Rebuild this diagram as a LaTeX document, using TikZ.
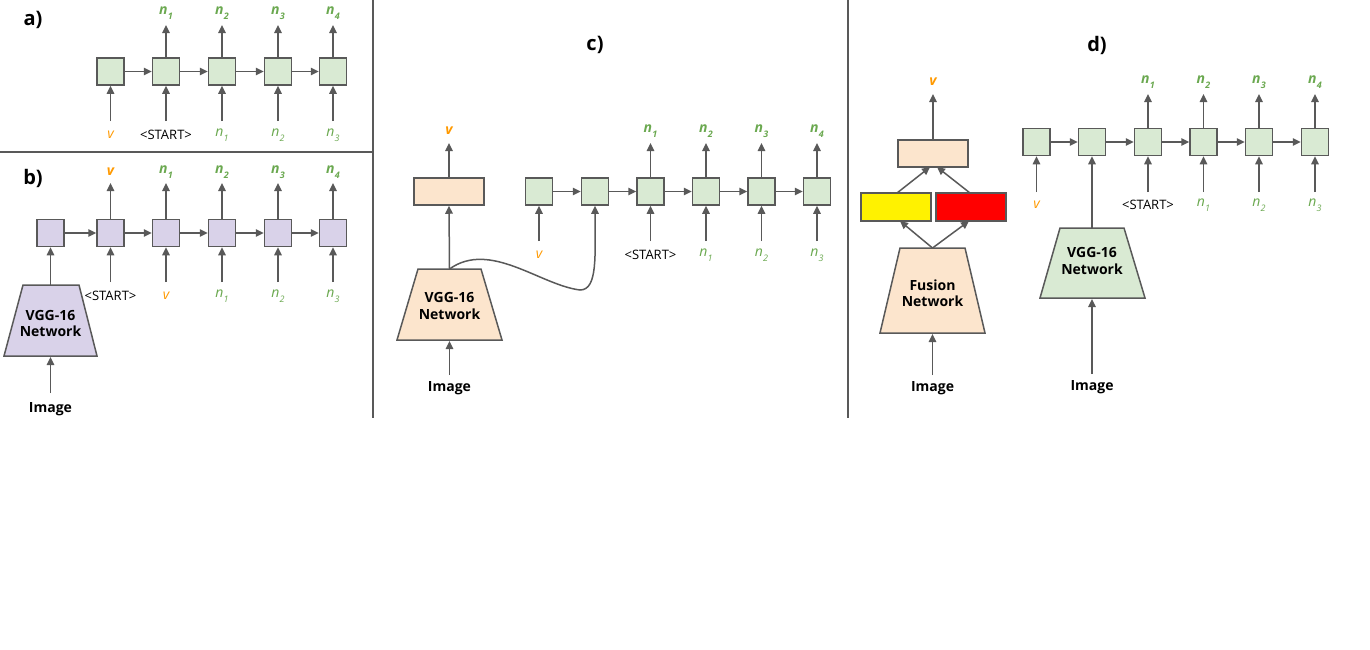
\documentclass[tikz,border=0pt]{standalone}
\usepackage{fontspec}
\setmainfont{Open Sans}
\usetikzlibrary{arrows.meta}
\definecolor{gfill}{HTML}{D9EAD3}
\definecolor{pfill}{HTML}{D9D2E9}
\definecolor{ofill}{HTML}{FCE5CD}
\definecolor{edgec}{HTML}{595959}
\definecolor{lgreen}{HTML}{6AA84F}
\definecolor{lorange}{HTML}{FF9900}
\newcommand\nn[1]{n\kern0.3pt\raisebox{-0.32em}{\fontsize{9}{9}\selectfont #1}}
\tikzset{
 cell/.style={draw=edgec, line width=1.5pt, minimum size=27pt, inner sep=0pt},
 gcell/.style={cell, fill=gfill},
 pcell/.style={cell, fill=pfill},
 wbox/.style={draw=edgec, line width=1.5pt, minimum width=70pt, minimum height=27pt, inner sep=0pt},
 arr/.style={draw=edgec, line width=1.5pt, -{Triangle[length=8pt,width=7.5pt]}},
 trap/.style={draw=edgec, line width=1.5pt},
 outlab/.style={font=\fontsize{14}{14}\selectfont\bfseries\itshape, text=lgreen, inner sep=0pt},
 inlab/.style={font=\fontsize{14}{14}\selectfont\itshape, text=lgreen, inner sep=0pt},
 voutlab/.style={font=\fontsize{14}{14}\selectfont\bfseries\itshape, text=lorange, inner sep=0pt},
 vinlab/.style={font=\fontsize{14}{14}\selectfont\itshape, text=lorange, inner sep=0pt},
 startlab/.style={font=\fontsize{13}{13}\selectfont, text=black, inner sep=0pt},
 imglab/.style={font=\fontsize{14}{14}\selectfont\bfseries, text=black, inner sep=0pt},
 netlab/.style={font=\fontsize{14}{16.5}\selectfont\bfseries, text=black, align=center, inner sep=0pt},
 panlab/.style={font=\fontsize{20}{20}\selectfont\bfseries, text=black, inner sep=0pt},
 sep/.style={draw=edgec, line width=1.5pt}
}
\begin{document}
\begin{tikzpicture}[x=1pt,y=-1pt]
\useasboundingbox (0,0) rectangle (1370,649);
% separators
\coordinate (s1a) at (373,0); \coordinate (s1b) at (373,418);
\coordinate (s2a) at (0,152); \coordinate (s2b) at (373,152);
\coordinate (s3a) at (848,0); \coordinate (s3b) at (848,418);
\draw[sep] (s1a) -- (s1b);
\draw[sep] (s2a) -- (s2b);
\draw[sep] (s3a) -- (s3b);
% ---------------- panel a
\node[panlab] (la) at (33,20) {a)};
\coordinate (atop) at (0,25); \coordinate (abot) at (0,121);
\coordinate (aolab) at (0,13); \coordinate (ailab) at (0,135);
\foreach \i/\x in {0/110.5,1/166,2/222,3/278,4/333}
  \node[gcell] (a\i) at (\x,71.5) {};
\foreach \i/\j in {0/1,1/2,2/3,3/4} \draw[arr] (a\i) -- (a\j);
\foreach \i in {1,2,3,4} {
  \coordinate (ao\i) at (a\i.north |- atop);
  \draw[arr] (a\i.north) -- (ao\i);
  \node[outlab] (aol\i) at (a\i |- aolab) {\nn{\i}};
}
\foreach \i in {0,...,4} {
  \coordinate (ai\i) at (a\i.south |- abot);
  \draw[arr] (ai\i) -- (a\i.south);
}
\node[vinlab] (ail0) at (a0 |- ailab) {v};
\node[startlab] (ail1) at (a1 |- ailab) {<START>};
\node[inlab] (ail2) at (a2 |- ailab) {\nn{1}};
\node[inlab] (ail3) at (a3 |- ailab) {\nn{2}};
\node[inlab] (ail4) at (a4 |- ailab) {\nn{3}};
% ---------------- panel b
\node[panlab] (lb) at (33,178) {b)};
\coordinate (btop) at (0,183); \coordinate (bbot) at (0,282);
\coordinate (bolab) at (0,172); \coordinate (bilab) at (0,296);
\foreach \i/\x in {0/50.5,1/110.5,2/166,3/222,4/278,5/333}
  \node[pcell] (b\i) at (\x,233) {};
\foreach \i/\j in {0/1,1/2,2/3,3/4,4/5} \draw[arr] (b\i) -- (b\j);
\foreach \i in {1,...,5} {
  \coordinate (bo\i) at (b\i.north |- btop);
  \draw[arr] (b\i.north) -- (bo\i);
  \coordinate (bi\i) at (b\i.south |- bbot);
  \draw[arr] (bi\i) -- (b\i.south);
}
\node[voutlab] (bol1) at (b1 |- bolab) {v};
\foreach \i/\k in {2/1,3/2,4/3,5/4}
  \node[outlab] (bol\i) at (b\i |- bolab) {\nn{\k}};
\node[startlab] (bil1) at (b1 |- bilab) {<START>};
\node[vinlab] (bil2) at (b2 |- bilab) {v};
\foreach \i/\k in {3/1,4/2,5/3}
  \node[inlab] (bil\i) at (b\i |- bilab) {\nn{\k}};
\filldraw[trap, fill=pfill] (23,285) -- (79,285) -- (97,356) -- (4,356) -- cycle;
\coordinate (vggbt) at (50.5,285); \coordinate (vggbb) at (50.5,357);
\node[netlab] (vggb) at (50.5,323.5) {VGG-16\\Network};
\draw[arr] (vggbt) -- (b0.south);
\coordinate (bimg) at (50.5,393);
\draw[arr] (bimg) -- (vggbb);
\node[imglab] (bimgl) at (50.5,409) {Image};
% ---------------- panel c
\node[panlab] (lc) at (595,45) {c)};
\coordinate (ctop) at (0,143); \coordinate (cbot) at (0,241);
\coordinate (colab) at (0,131); \coordinate (cilab) at (0,255);
\node[wbox, fill=ofill] (cr) at (449,191.5) {};
\coordinate (cro) at (cr.north |- ctop);
\draw[arr] (cr.north) -- (cro);
\node[voutlab] (crl) at (cr |- colab) {v};
\foreach \i/\x in {0/539,1/595,2/650.5,3/706,4/761.5,5/817}
  \node[gcell] (c\i) at (\x,191.5) {};
\foreach \i/\j in {0/1,1/2,2/3,3/4,4/5} \draw[arr] (c\i) -- (c\j);
\foreach \i/\k in {2/1,3/2,4/3,5/4} {
  \coordinate (co\i) at (c\i.north |- ctop);
  \draw[arr] (c\i.north) -- (co\i);
  \node[outlab] (col\i) at (c\i |- colab) {\nn{\k}};
}
\foreach \i in {0,2,3,4,5} {
  \coordinate (ci\i) at (c\i.south |- cbot);
  \draw[arr] (ci\i) -- (c\i.south);
}
\node[vinlab] (cil0) at (c0 |- cilab) {v};
\node[startlab] (cil2) at (c2 |- cilab) {<START>};
\foreach \i/\k in {3/1,4/2,5/3}
  \node[inlab] (cil\i) at (c\i |- cilab) {\nn{\k}};
\filldraw[trap, fill=ofill] (418,269) -- (481,269) -- (502,340) -- (397,340) -- cycle;
\coordinate (vggct) at (449.5,269); \coordinate (vggcb) at (449.5,341);
\node[netlab] (vggc) at (449.5,306) {VGG-16\\Network};
\draw[arr] (vggct) -- (cr.south);
\coordinate (cmid) at (580,290);
\draw[arr] (vggct) .. controls (490,240) and (540,285) .. (cmid)
  .. controls (598,290) and (595,255) .. (c1.south);
\coordinate (cimg) at (449.5,375);
\draw[arr] (cimg) -- (vggcb);
\node[imglab] (cimgl) at (449.5,388) {Image};
% ---------------- panel d
\node[panlab] (ld) at (1097,45) {d)};
\coordinate (dtop) at (0,94); \coordinate (dbot) at (0,192);
\coordinate (dolab) at (0,82); \coordinate (dilab) at (0,205);
\node[wbox, fill=ofill] (dr) at (933,153.5) {};
\coordinate (dro) at (dr.north |- dtop);
\draw[arr] (dr.north) -- (dro);
\node[voutlab] (drl) at (dr |- dolab) {v};
\node[wbox, fill=yellow, minimum height=28pt] (dy) at (896,207) {};
\node[wbox, fill=red, minimum height=28pt] (dred) at (971,207) {};
\coordinate (dyt) at (897,193); \coordinate (drt) at (970,193);
\coordinate (dyh) at (930,167); \coordinate (drh) at (937,167);
\draw[arr] (dyt) -- (dyh);
\draw[arr] (drt) -- (drh);
\filldraw[trap, fill=ofill] (900,248) -- (965,248) -- (985,333) -- (880,333) -- cycle;
\coordinate (fust) at (932.5,248); \coordinate (fusb) at (932.5,334);
\node[netlab] (fus) at (932.5,293) {Fusion\\Network};
\coordinate (dyb) at (900,221); \coordinate (drb) at (969,221);
\draw[arr] (fust) -- (dyb);
\draw[arr] (fust) -- (drb);
\coordinate (dimg1) at (932.5,375);
\draw[arr] (dimg1) -- (fusb);
\node[imglab] (dimg1l) at (932.5,388) {Image};
\foreach \i/\x in {0/1036.5,1/1092,2/1148,3/1203.5,4/1259,5/1315}
  \node[gcell] (d\i) at (\x,142) {};
\foreach \i/\j in {0/1,1/2,2/3,3/4,4/5} \draw[arr] (d\i) -- (d\j);
\foreach \i/\k in {2/1,3/2,4/3,5/4} {
  \coordinate (do\i) at (d\i.north |- dtop);
  \draw[arr] (d\i.north) -- (do\i);
  \node[outlab] (dol\i) at (d\i |- dolab) {\nn{\k}};
}
\foreach \i in {0,2,3,4,5} {
  \coordinate (di\i) at (d\i.south |- dbot);
  \draw[arr] (di\i) -- (d\i.south);
}
\node[vinlab] (dil0) at (d0 |- dilab) {v};
\node[startlab] (dil2) at (d2 |- dilab) {<START>};
\foreach \i/\k in {3/1,4/2,5/3}
  \node[inlab] (dil\i) at (d\i |- dilab) {\nn{\k}};
\filldraw[trap, fill=gfill] (1060,228) -- (1124,228) -- (1145,298) -- (1040,298) -- cycle;
\coordinate (vggdt) at (1092,228); \coordinate (vggdb) at (1092,299);
\node[netlab] (vggd) at (1092,261) {VGG-16\\Network};
\draw[arr] (vggdt) -- (d1.south);
\coordinate (dimg2) at (1092,374);
\draw[arr] (dimg2) -- (vggdb);
\node[imglab] (dimg2l) at (1092,387) {Image};
\end{tikzpicture}
\end{document}
